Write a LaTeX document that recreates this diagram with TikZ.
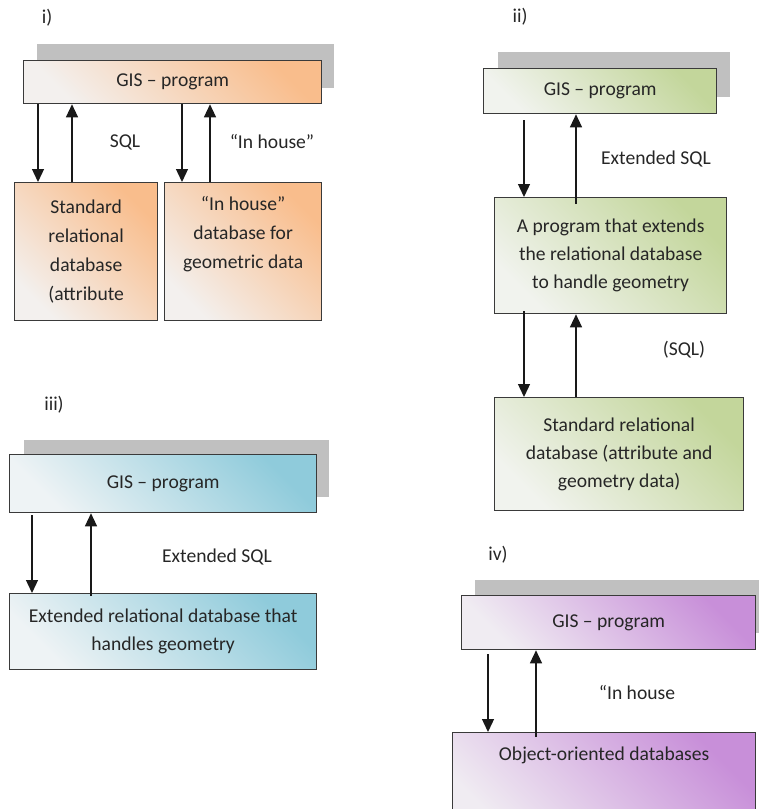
\documentclass[tikz,border=0pt]{standalone}
\usepackage{fontspec}
\setmainfont{Carlito}
\usetikzlibrary{arrows.meta}
\definecolor{txt}{HTML}{262626}
\definecolor{edge}{HTML}{3A3A3A}
\definecolor{shadowgray}{HTML}{C0C0C0}
\definecolor{orangeA}{HTML}{F9BD8C}
\definecolor{orangeB}{HTML}{F3F0EE}
\definecolor{greenA}{HTML}{C3D69B}
\definecolor{greenB}{HTML}{F1F3EE}
\definecolor{blueA}{HTML}{8FCBDB}
\definecolor{blueB}{HTML}{EEF3F5}
\definecolor{purpleA}{HTML}{C88FD9}
\definecolor{purpleB}{HTML}{F0ECF2}
\tikzset{
  txtfont/.style={font=\fontsize{19.6}{28}\selectfont, text=txt},
  panelbox/.style={txtfont, draw=edge, line width=1.3pt, rectangle, inner sep=0pt,
    anchor=north west, align=center},
  orangebox/.style={panelbox, top color=orangeA, bottom color=orangeB, shading angle=-45},
  greenbox/.style={panelbox, top color=greenA, bottom color=greenB, shading angle=-45},
  bluebox/.style={panelbox, top color=blueA, bottom color=blueB, shading angle=-45},
  purplebox/.style={panelbox, top color=purpleA, bottom color=purpleB, shading angle=-45},
  shadowbox/.style={fill=shadowgray, draw=none},
  arr/.style={draw=black!90, line width=1.3pt, -{Triangle[width=12pt,length=13pt]}},
  lbl/.style={txtfont, inner sep=0pt},
}
\begin{document}
\begin{tikzpicture}[x=1pt,y=-1pt]
\useasboundingbox (0,0) rectangle (759,809);

% ---------- panel i ----------
\node[lbl] (labi) at (47,18) {i)};
\fill[shadowbox] (37,44) rectangle (334,88);
\node[orangebox, minimum width=298pt, minimum height=43pt] (gis1) at (23,60) {GIS -- program};
\node[orangebox, minimum width=143pt, minimum height=138pt, font=\fontsize{19.6}{29}\selectfont] (db1a) at (14,182)
  {Standard\\relational\\database\\(attribute};
\node[orangebox, minimum width=157pt, minimum height=138pt, font=\fontsize{19.6}{29}\selectfont] (db1b) at (164,182)
  {“In house”\\database for\\geometric data\\\strut};
\draw[arr] ([xshift=15pt]gis1.south west) -- ([xshift=24pt]db1a.north west);
\draw[arr] ([xshift=58pt]db1a.north west) -- ([xshift=49pt]gis1.south west);
\draw[arr] ([xshift=159pt]gis1.south west) -- ([xshift=18pt]db1b.north west);
\draw[arr] ([xshift=46pt]db1b.north west) -- ([xshift=187pt]gis1.south west);
\node[lbl] (sql1) at (125,142) {SQL};
\node[lbl] (ih1) at (272,142) {“In house”};

% ---------- panel ii ----------
\node[lbl] (labii) at (520,17) {ii)};
\fill[shadowbox] (498,52) rectangle (730,97);
\node[greenbox, minimum width=233pt, minimum height=45pt] (gis2) at (483,68) {GIS -- program};
\node[greenbox, minimum width=232pt, minimum height=116pt] (mid2) at (494,197)
  {A program that extends\\the relational database\\to handle geometry};
\node[greenbox, minimum width=249pt, minimum height=113pt] (db2) at (494,397)
  {Standard relational\\database (attribute and\\geometry data)};
\draw[arr] ([xshift=41pt,yshift=-6pt]gis2.south west) -- ([xshift=30pt]mid2.north west);
\draw[arr] ([xshift=82pt,yshift=-7pt]mid2.north west) -- ([xshift=93pt]gis2.south west);
\draw[arr] ([xshift=30pt,yshift=3pt]mid2.south west) -- ([xshift=30pt]db2.north west);
\draw[arr] ([xshift=82pt]db2.north west) -- ([xshift=82pt]mid2.south west);
\node[lbl] (esql2) at (656,159) {Extended SQL};
\node[lbl] (sql2) at (684,350) {(SQL)};

% ---------- panel iii ----------
\node[lbl] (labiii) at (54,405) {iii)};
\fill[shadowbox] (24,440) rectangle (329,497);
\node[bluebox, minimum width=307pt, minimum height=58pt] (gis3) at (9,454) {GIS -- program};
\node[bluebox, minimum width=307pt, minimum height=76pt] (db3) at (9,593)
  {Extended relational database that\\handles geometry};
\draw[arr] ([xshift=23pt,yshift=-2pt]gis3.south west) -- ([xshift=23pt]db3.north west);
\draw[arr] ([xshift=82pt,yshift=-3pt]db3.north west) -- ([xshift=82pt]gis3.south west);
\node[lbl] (esql3) at (217,557) {Extended SQL};

% ---------- panel iv ----------
\node[lbl] (labiv) at (498,555) {iv)};
\fill[shadowbox] (475,580) rectangle (775,633);
\node[purplebox, minimum width=294pt, minimum height=54pt] (gis4) at (461,595) {GIS -- program};
\node[purplebox, minimum width=303pt, minimum height=106pt] (db4) at (452,732)
  {Object-oriented databases\\\strut\\\strut};
\draw[arr] ([xshift=27pt,yshift=-4pt]gis4.south west) -- ([xshift=36pt]db4.north west);
\draw[arr] ([xshift=84pt,yshift=-5pt]db4.north west) -- ([xshift=75pt]gis4.south west);
\node[lbl] (ih4) at (637,692) {“In house};
\end{tikzpicture}
\end{document}
